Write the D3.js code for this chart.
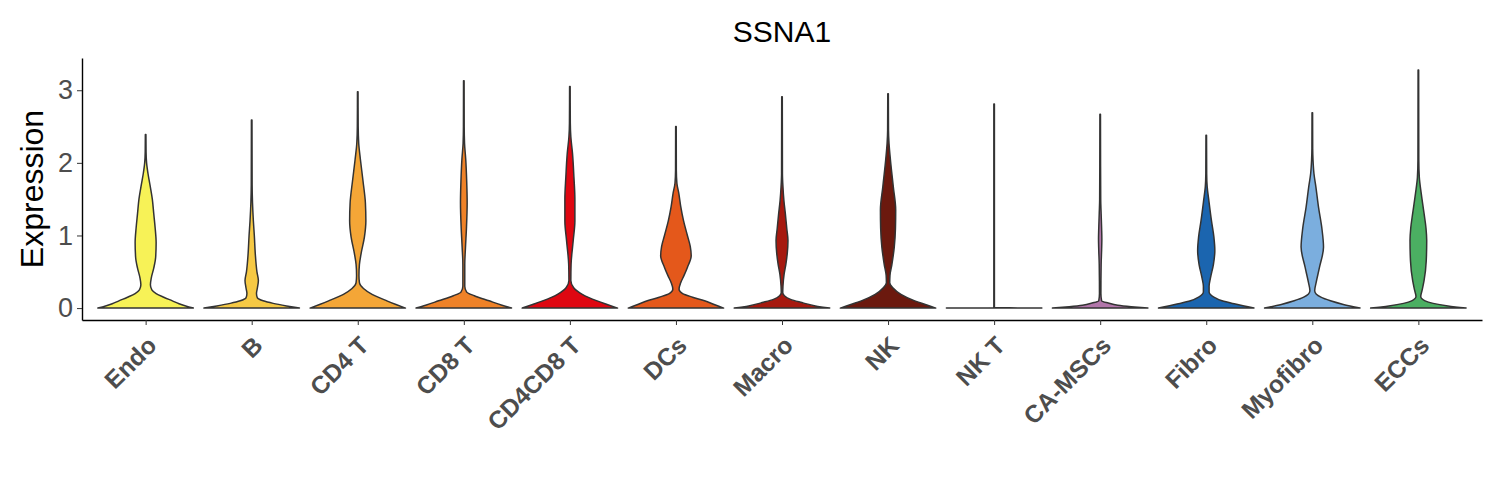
<!DOCTYPE html>
<html>
<head>
<meta charset="utf-8">
<script src="https://cdn.jsdelivr.net/npm/d3@7"></script>
<style>
  body { margin: 0; background: #fff; }
  svg { font-family: "Liberation Sans", Arial, sans-serif; }
</style>
</head>
<body>
<div class="chart"></div>
<script>
// cell types on the x axis
const cellTypes = ["Endo", "B", "CD4 T", "CD8 T", "CD4CD8 T", "DCs", "Macro", "NK", "NK T", "CA-MSCs", "Fibro", "Myofibro", "ECCs"]
const fillColors = ["#F7F257", "#F6C944", "#F4A637", "#EF8228", "#DF0711", "#E4581B", "#A6190F", "#6B190E", "#C9C9C9", "#B276AA", "#1B65AF", "#7BAEDE", "#4BAF62"]
// highest expression per cell type
const maxExpr = [2.39, 2.59, 2.98, 3.13, 3.05, 2.50, 2.91, 2.95, 2.81, 2.67, 2.38, 2.69, 3.28]
const yTicks = [0, 1, 2, 3]

// density profiles: [expression, relative width]
const endoDens = [[0,1],[0.03,0.84],[0.06,0.7],[0.1,0.56],[0.15,0.38],[0.2,0.22],[0.25,0.13],[0.32,0.1],[0.42,0.12],[0.55,0.17],[0.7,0.21],[0.9,0.22],[1.1,0.2],[1.3,0.17],[1.5,0.14],[1.7,0.09],[1.85,0.05],[2.0,0.02],[2.15,0.009],[2.39,0.006]]
const bDens = [[0,1],[0.03,0.73],[0.065,0.45],[0.1,0.24],[0.14,0.12],[0.2,0.1],[0.28,0.12],[0.38,0.14],[0.5,0.11],[0.75,0.075],[1.0,0.055],[1.2,0.035],[1.45,0.017],[1.7,0.009],[2.59,0.006]]
const cd4Dens = [[0,1],[0.05,0.8],[0.1,0.61],[0.19,0.3],[0.27,0.12],[0.35,0.035],[0.45,0.025],[0.6,0.035],[0.75,0.07],[0.98,0.14],[1.2,0.17],[1.45,0.16],[1.75,0.11],[2.05,0.055],[2.27,0.02],[2.5,0.009],[2.98,0.006]]
const cd8Dens = [[0,1],[0.04,0.8],[0.1,0.53],[0.17,0.22],[0.22,0.06],[0.3,0.02],[0.6,0.02],[0.84,0.035],[1.1,0.055],[1.45,0.07],[1.75,0.06],[2.05,0.04],[2.27,0.015],[2.5,0.008],[3.13,0.006]]
const dpDens = [[0,1],[0.05,0.78],[0.1,0.57],[0.19,0.26],[0.28,0.08],[0.38,0.02],[0.6,0.025],[0.93,0.07],[1.2,0.105],[1.5,0.105],[1.8,0.085],[2.13,0.055],[2.36,0.02],[2.55,0.009],[3.05,0.006]]
const dcDens = [[0,1],[0.05,0.8],[0.1,0.6],[0.15,0.35],[0.2,0.14],[0.26,0.065],[0.35,0.1],[0.45,0.17],[0.56,0.24],[0.72,0.32],[0.85,0.3],[1.0,0.24],[1.2,0.16],[1.4,0.1],[1.58,0.06],[1.72,0.02],[1.9,0.008],[2.5,0.006]]
const macroDens = [[0,1],[0.03,0.7],[0.08,0.39],[0.12,0.18],[0.17,0.05],[0.21,0.016],[0.3,0.02],[0.47,0.045],[0.6,0.08],[0.75,0.11],[0.93,0.125],[1.1,0.1],[1.3,0.07],[1.48,0.04],[1.67,0.02],[1.85,0.009],[2.91,0.006]]
const nkDens = [[0,1],[0.05,0.78],[0.1,0.56],[0.19,0.27],[0.28,0.1],[0.35,0.035],[0.45,0.04],[0.6,0.08],[0.84,0.13],[1.1,0.155],[1.35,0.16],[1.67,0.11],[2.04,0.05],[2.27,0.02],[2.45,0.009],[2.95,0.006]]
const nktDens = [[0,1],[0.006,0.006],[2.81,0.006]]
const mscDens = [[0,1],[0.02,0.65],[0.04,0.37],[0.07,0.17],[0.1,0.03],[0.2,0.015],[0.6,0.02],[0.8,0.03],[0.95,0.035],[1.1,0.03],[1.3,0.02],[1.5,0.011],[2.67,0.006]]
const fibroDens = [[0,1],[0.055,0.61],[0.1,0.33],[0.15,0.16],[0.22,0.06],[0.3,0.06],[0.42,0.09],[0.6,0.15],[0.79,0.18],[0.98,0.16],[1.2,0.11],[1.48,0.055],[1.67,0.02],[1.85,0.009],[2.38,0.006]]
const myoDens = [[0,1],[0.05,0.65],[0.1,0.38],[0.15,0.18],[0.24,0.05],[0.35,0.08],[0.56,0.15],[0.84,0.235],[1.1,0.2],[1.39,0.13],[1.67,0.075],[1.85,0.035],[2.04,0.015],[2.2,0.008],[2.69,0.006]]
const eccDens = [[0,1],[0.03,0.62],[0.065,0.31],[0.1,0.14],[0.16,0.05],[0.25,0.08],[0.38,0.12],[0.65,0.165],[0.93,0.175],[1.1,0.16],[1.3,0.12],[1.58,0.06],[1.8,0.02],[2.04,0.009],[3.28,0.006]]
const densities = [endoDens, bDens, cd4Dens, cd8Dens, dpDens, dcDens, macroDens, nkDens, nktDens, mscDens, fibroDens, myoDens, eccDens]

const W = 1500, H = 500
const margin = { top: 58, right: 18, bottom: 180, left: 82 }

const svg = d3.select(".chart").append("svg")
  .attr("width", W)
  .attr("height", H)

const yTop = d3.max(maxExpr)
const pad = yTop * 0.05
const y = d3.scaleLinear()
  .domain([-pad, yTop + pad])
  .range([H - margin.bottom, margin.top])

const x = d3.scalePoint()
  .domain(cellTypes)
  .range([margin.left, W - margin.right])
  .padding(0.6)

const halfW = x.step() * 0.45

// violins
const violin = (cx) => d3.area()
  .y(d => y(d[0]))
  .x0(d => cx - d[1] * halfW)
  .x1(d => cx + d[1] * halfW)
  .curve(d3.curveMonotoneY)

svg.append("g").selectAll("path")
  .data(cellTypes)
  .enter().append("path")
  .attr("d", (d, i) => violin(x(d))(densities[i]))
  .attr("fill", (d, i) => fillColors[i])
  .attr("stroke", "#333333")
  .attr("stroke-width", 1.5)
  .attr("stroke-linejoin", "round")

// axes
const yAxis = svg.append("g")
  .attr("transform", "translate(" + margin.left + ",0)")
  .call(d3.axisLeft(y).tickValues(yTicks).tickFormat(d3.format("d")).tickSize(5).tickSizeOuter(0).tickPadding(4))
yAxis.select(".domain").attr("stroke", "#000").attr("stroke-width", 1.4)
yAxis.selectAll(".tick line").attr("stroke", "#333")
yAxis.selectAll(".tick text")
  .attr("fill", "#4D4D4D")
  .style("font-size", "27px")

const xAxis = svg.append("g")
  .attr("transform", "translate(0," + (H - margin.bottom) + ")")
  .call(d3.axisBottom(x).tickSize(5).tickSizeOuter(0))
xAxis.select(".domain").attr("stroke", "#000").attr("stroke-width", 1.4)
xAxis.selectAll(".tick line").attr("stroke", "#333")
xAxis.selectAll(".tick text")
  .attr("fill", "#4D4D4D")
  .attr("text-anchor", "end")
  .attr("dy", null)
  .attr("y", null)
  .attr("transform", "translate(12,27) rotate(-45)")
  .style("font-size", "24.5px")
  .style("font-weight", "bold")

// labels
svg.append("text")
  .attr("x", (margin.left + W - margin.right) / 2)
  .attr("y", 42)
  .attr("text-anchor", "middle")
  .style("font-size", "30px")
  .text("SSNA1")

svg.append("text")
  .attr("transform", "translate(43," + ((margin.top + H - margin.bottom) / 2) + ") rotate(-90)")
  .attr("text-anchor", "middle")
  .style("font-size", "32px")
  .text("Expression")
</script>
</body>
</html>
